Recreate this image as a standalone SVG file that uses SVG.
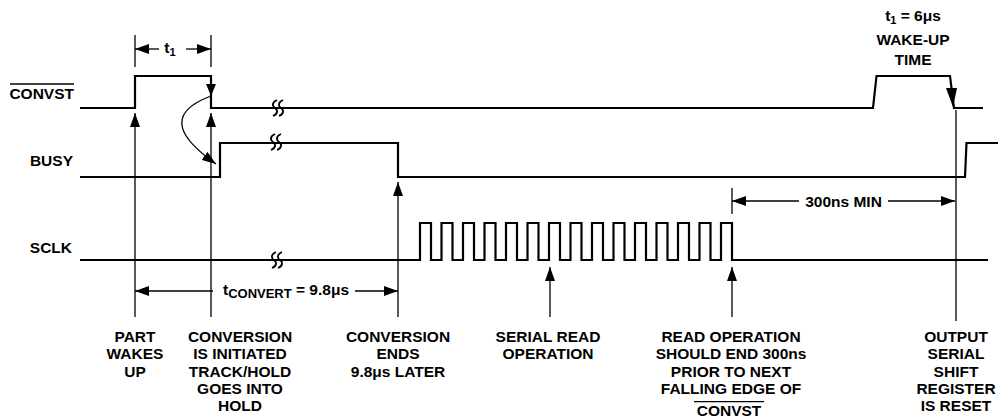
<svg xmlns="http://www.w3.org/2000/svg" width="998" height="419" viewBox="0 0 998 419">
<defs>
<style>
.sig{fill:none;stroke:#000;stroke-width:2.2;stroke-linejoin:miter}
.ref{fill:none;stroke:#000;stroke-width:1.3}
.brk{fill:none;stroke:#000;stroke-width:1.8}
text{font-family:"Liberation Sans",Arial,Helvetica,sans-serif;font-weight:bold;font-size:15.5px;fill:#000}
.lbl{text-anchor:end}
.c{text-anchor:middle}
</style>
<marker id="ah" viewBox="0 0 14 10" refX="14" refY="5" markerWidth="14" markerHeight="10" markerUnits="userSpaceOnUse" orient="auto">
<path d="M0,0 L14,5 L0,10 z" fill="#000"/>
</marker>
<path id="sq" d="M2,-8 C-3,-6 -3,-2 0,0 C3,2 3,6 -2,8" class="brk"/>
</defs>

<g id="signal-labels">
<text class="lbl" x="74" y="99">CONVST</text>
<line x1="10" y1="84" x2="74" y2="84" stroke="#000" stroke-width="1.3"/>
<text class="lbl" x="73" y="166">BUSY</text>
<text class="lbl" x="72" y="253">SCLK</text>
</g>

<g id="convst">
<polyline class="sig" points="80,108 135,108 135,76 211,76 211,108 873,108 876.5,76 950,76 954,108 983,108"/>
<polygon points="206,84 216,84 211,96" fill="#000"/>
<polygon points="946,88 957,88 953,107" fill="#000"/>
</g>

<g id="busy">
<polyline class="sig" points="80,177 220,177 220,143 398,143 398,177 965,177 966.5,143 998,143"/>
</g>

<g id="sclk">
<polyline class="sig" points="80,260 420,260 420,223 431,223 431,260 441.5,260 441.5,223 452.5,223 452.5,260 463,260 463,223 474,223 474,260 484.5,260 484.5,223 495.5,223 495.5,260 506,260 506,223 517,223 517,260 527.5,260 527.5,223 538.5,223 538.5,260 549,260 549,223 560,223 560,260 570.5,260 570.5,223 581.5,223 581.5,260 592,260 592,223 603,223 603,260 613.5,260 613.5,223 624.5,223 624.5,260 635,260 635,223 646,223 646,260 656.5,260 656.5,223 667.5,223 667.5,260 678,260 678,223 689,223 689,260 699.5,260 699.5,223 710.5,223 710.5,260 721,260 721,223 732,223 732,260 988,260"/>
</g>

<g id="breaks">
<use href="#sq" x="275" y="108"/>
<use href="#sq" x="281" y="108"/>
<use href="#sq" x="273" y="142"/>
<use href="#sq" x="279" y="142"/>
<use href="#sq" x="274" y="260"/>
<use href="#sq" x="280" y="260"/>
</g>

<g id="connectors">
<line class="ref" x1="135" y1="35" x2="135" y2="67"/>
<line class="ref" x1="211" y1="35" x2="211" y2="67"/>
<line class="ref" x1="159" y1="49" x2="135" y2="49" marker-end="url(#ah)"/>
<line class="ref" x1="186" y1="49" x2="211" y2="49" marker-end="url(#ah)"/>
<line class="ref" x1="135" y1="317" x2="135" y2="113" marker-end="url(#ah)"/>
<line class="ref" x1="211" y1="317" x2="211" y2="113" marker-end="url(#ah)"/>
<line class="ref" x1="398" y1="317" x2="398" y2="182" marker-end="url(#ah)"/>
<line class="ref" x1="550" y1="317" x2="550" y2="267" marker-end="url(#ah)"/>
<line class="ref" x1="732" y1="317" x2="732" y2="267" marker-end="url(#ah)"/>
<line class="ref" x1="956" y1="110" x2="956" y2="321"/>
<path class="ref" d="M211,96 C160,115 185,142 216,164" marker-end="url(#ah)"/>
<line class="ref" x1="213" y1="291" x2="135" y2="291" marker-end="url(#ah)"/>
<line class="ref" x1="355" y1="291" x2="398" y2="291" marker-end="url(#ah)"/>
<line class="ref" x1="732" y1="188" x2="732" y2="214"/>
<line class="ref" x1="799" y1="201" x2="732" y2="201" marker-end="url(#ah)"/>
<line class="ref" x1="888" y1="201" x2="955" y2="201" marker-end="url(#ah)"/>
</g>

<g id="dimension-labels">
<text class="c" x="170" y="53">t<tspan font-size="11" dy="3">1</tspan></text>
<text class="c" x="286" y="295">t<tspan font-size="13" dy="3">CONVERT</tspan><tspan dy="-3"> = 9.8μs</tspan></text>
<text class="c" x="843.5" y="206.5">300ns MIN</text>
<text class="c" x="913" y="21">t<tspan font-size="11" dy="3">1</tspan><tspan dy="-3"> = 6μs</tspan></text>
<text class="c" x="913" y="45">WAKE-UP</text>
<text class="c" x="913" y="65">TIME</text>
</g>

<g id="note-wake">
<text class="c" x="135" y="342">PART</text>
<text class="c" x="135" y="359.3">WAKES</text>
<text class="c" x="135" y="376.6">UP</text>
</g>
<g id="note-initiated">
<text class="c" x="240" y="342">CONVERSION</text>
<text class="c" x="240" y="359.3">IS INITIATED</text>
<text class="c" x="240" y="376.6">TRACK/HOLD</text>
<text class="c" x="240" y="393.9">GOES INTO</text>
<text class="c" x="240" y="411">HOLD</text>
</g>
<g id="note-ends">
<text class="c" x="398" y="342">CONVERSION</text>
<text class="c" x="398" y="359.3">ENDS</text>
<text class="c" x="398" y="376.6">9.8μs LATER</text>
</g>
<g id="note-read">
<text class="c" x="548" y="342">SERIAL READ</text>
<text class="c" x="548" y="359.3">OPERATION</text>
</g>
<g id="note-end300">
<text class="c" x="731" y="342">READ OPERATION</text>
<text class="c" x="731" y="359.3">SHOULD END 300ns</text>
<text class="c" x="731" y="376.6">PRIOR TO NEXT</text>
<text class="c" x="731" y="393.9">FALLING EDGE OF</text>
<text class="c" x="729" y="416">CONVST</text>
<line x1="694" y1="401.7" x2="764" y2="401.7" stroke="#000" stroke-width="1.3"/>
</g>
<g id="note-reset">
<text class="c" x="956" y="342">OUTPUT</text>
<text class="c" x="956" y="359.3">SERIAL</text>
<text class="c" x="956" y="376.6">SHIFT</text>
<text class="c" x="956" y="393.9">REGISTER</text>
<text class="c" x="956" y="411">IS RESET</text>
</g>
</svg>
